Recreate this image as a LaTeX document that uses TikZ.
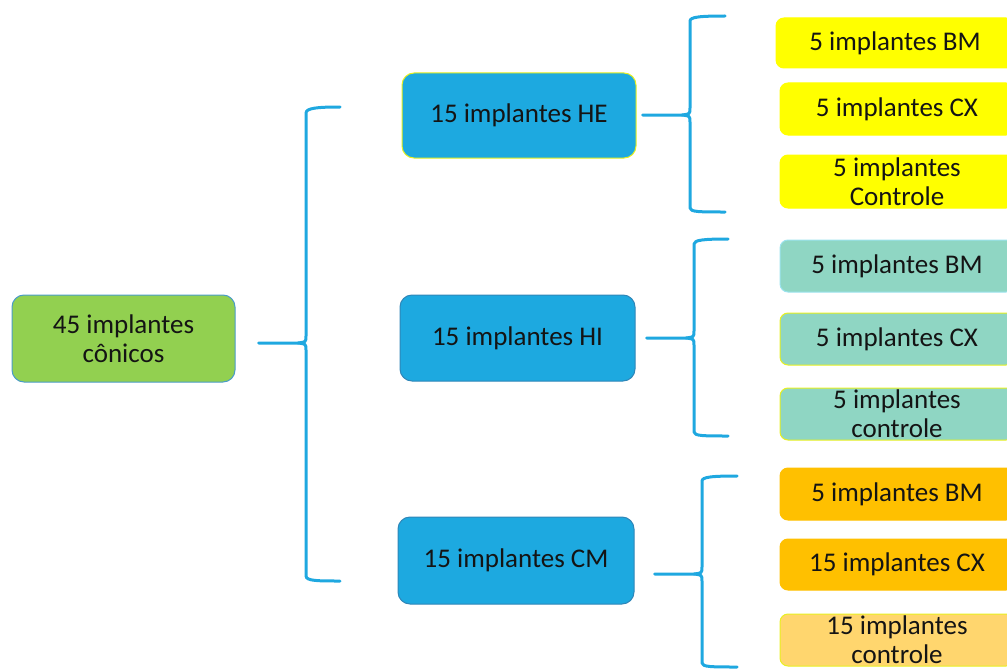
\documentclass[tikz,border=0pt]{standalone}
\usepackage{fontspec}
\setmainfont{Carlito}
\definecolor{greenfill}{HTML}{92D050}
\definecolor{rootedge}{HTML}{4A9CC8}
\definecolor{bluefill}{HTML}{1DA9E0}
\definecolor{blueedge}{HTML}{2F86B8}
\definecolor{yellowedge}{HTML}{E8F020}
\definecolor{yellowfill}{HTML}{FFFF00}
\definecolor{tealfill}{HTML}{8FD6C3}
\definecolor{tealedge}{HTML}{9BE3EE}
\definecolor{orangefill}{HTML}{FFC000}
\definecolor{lightorange}{HTML}{FFD66E}
\definecolor{bracecol}{HTML}{1FA8E0}
\definecolor{txtcol}{HTML}{141414}
\begin{document}
\begin{tikzpicture}[x=1pt,y=-1pt,
  txt/.style={font=\fontsize{27}{29}\selectfont, text=txtcol, align=center, inner sep=0pt},
  leftbox/.style={txt, draw, line width=1pt, rounded corners=12pt},
  rightbox/.style={txt, draw, line width=1pt, rounded corners=8pt, minimum width=234pt},
  brace/.style={draw=bracecol, line width=3pt, line cap=round, line join=round}]
\useasboundingbox (0,0) rectangle (1007,669);

% left column
\node[leftbox, fill=greenfill, draw=rootedge, minimum width=223pt, minimum height=87pt] (root) at (123.5,338.5) {45 implantes\\cônicos};

% middle column
\node[leftbox, fill=bluefill, draw=yellowedge, minimum width=234pt, minimum height=85pt] (he) at (519,115.5) {\raisebox{-2pt}{15 implantes HE}};
\node[leftbox, fill=bluefill, draw=blueedge, minimum width=235pt, minimum height=86pt] (hi) at (517.5,338) {\raisebox{-2pt}{15 implantes HI}};
\node[leftbox, fill=bluefill, draw=blueedge, minimum width=236pt, minimum height=87pt] (cm) at (516,560.5) {\raisebox{-2pt}{15 implantes CM}};

% right column
\node[rightbox, fill=yellowfill, draw=yellowfill, minimum width=238pt, minimum height=50pt] (bm1) at (895,43) {5 implantes BM};
\node[rightbox, fill=yellowfill, draw=yellowfill, minimum height=52pt] (cx1) at (897,109) {5 implantes CX};
\node[rightbox, fill=yellowfill, draw=yellowfill, minimum height=53pt] (ct1) at (897,181.5) {5 implantes\\Controle};

\node[rightbox, fill=tealfill, draw=tealedge, minimum height=52pt] (bm2) at (897,266) {5 implantes BM};
\node[rightbox, fill=tealfill, draw=yellowedge, minimum height=52pt] (cx2) at (897,339) {5 implantes CX};
\node[rightbox, fill=tealfill, draw=yellowedge, minimum height=52pt] (ct2) at (897,414) {5 implantes\\controle};

\node[rightbox, fill=orangefill, draw=orangefill, minimum height=52pt] (bm3) at (897,494) {5 implantes BM};
\node[rightbox, fill=orangefill, draw=orangefill, minimum height=51pt] (cx3) at (897,564.5) {15 implantes CX};
\node[rightbox, fill=lightorange, draw=yellowedge, minimum height=52pt] (ct3) at (897,640) {15 implantes\\controle};

% brace stems start points
\coordinate (s0) at ([xshift=23pt]root.east |- 0,343);
\coordinate (s1) at ([xshift=6pt]he.east |- 0,115);
\coordinate (s2) at ([xshift=11pt]hi.east |- 0,338);
\coordinate (s3) at ([xshift=20pt]cm.east |- 0,574);

% main brace
\draw[brace] (s0) -- (298,343) .. controls (306,342) .. (306,336) -- (306,113) .. controls (306,108) and (318,107) .. (340,107);
\draw[brace] (298,343) .. controls (306,344) .. (306,350) -- (306,576) .. controls (306,581) and (318,581) .. (340,581);

% HE brace
\draw[brace] (s1) -- (682,115) .. controls (690,114) .. (690,108) -- (690,21) .. controls (690,17) and (700,16) .. (725,16);
\draw[brace] (682,115) .. controls (690,116) .. (690,122) -- (690,208) .. controls (690,212) and (700,212) .. (725,212);

% HI brace
\draw[brace] (s2) -- (686,338) .. controls (694,337) .. (694,331) -- (694,244) .. controls (694,240) and (704,239) .. (728,239);
\draw[brace] (686,338) .. controls (694,339) .. (694,345) -- (694,432) .. controls (694,436) and (704,436) .. (728,436);

% CM brace
\draw[brace] (s3) -- (694,574) .. controls (702,573) .. (702,567) -- (702,481) .. controls (702,477) and (712,476) .. (737,476);
\draw[brace] (694,574) .. controls (702,575) .. (702,581) -- (702,663) .. controls (702,667) and (712,667) .. (737,667);
\end{tikzpicture}
\end{document}
